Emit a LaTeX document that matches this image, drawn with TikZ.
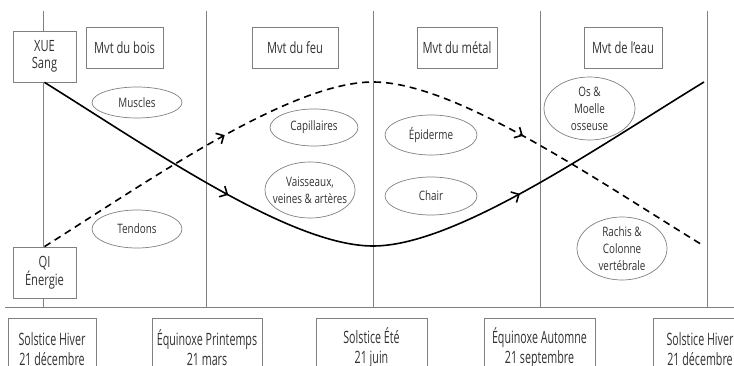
\documentclass[tikz,border=0pt]{standalone}
\usepackage{fontspec}
\setmainfont{Open Sans}[FakeStretch=0.72]
\newfontfamily\organfont{Open Sans}[FakeStretch=0.76]
\newfontfamily\datefont{Open Sans}[FakeStretch=0.63]
\usepackage{tikz}
\usetikzlibrary{arrows.meta,shapes.geometric,decorations.markings}

\begin{document}
\begin{tikzpicture}[x=1pt,y=-1pt,
  grid/.style={draw=black!50,line width=0.8pt},
  box/.style={draw=black!50,line width=0.8pt,fill=white,align=center,inner sep=0pt,text=black!80,font=\fontsize{15.5}{17}\selectfont},
  organ/.style={draw=black!50,line width=0.7pt,fill=white,ellipse,align=center,inner sep=0pt,text=black!80,font=\organfont\fontsize{13}{17}\selectfont},
  datebox/.style={draw=black!50,line width=0.8pt,fill=white,align=center,inner sep=0pt,anchor=north,minimum height=58pt,text=black!80,font=\datefont\fontsize{17}{20}\selectfont},
  flow/.style={line width=1.6pt,postaction=decorate,decoration={markings,
    mark=at position #1 with {\arrow{Straight Barb[length=6pt,width=12pt]}},
    mark=at position 1-#1 with {\arrow{Straight Barb[length=6pt,width=12pt]}}}}]
  \useasboundingbox (0,0) rectangle (734,366);
  \clip (0,0) rectangle (734,366);
  \foreach \x in {43,206,373,540,707}
    \draw[grid] (\x,11) -- (\x,307);
  \draw[grid] (5,307) -- (734,307);
  \node[box,minimum width=63pt,minimum height=51pt] (xue) at (44.5,56.5) {XUE\\Sang};
  \node[box,minimum width=63pt,minimum height=51pt] (qi) at (44.5,272.5) {QI\\Énergie};
  \node[box,minimum width=77pt,minimum height=41pt] (bois) at (124.5,47.5) {Mvt du bois};
  \node[box,minimum width=86pt,minimum height=41pt] (feu) at (295,47.5) {Mvt du feu};
  \node[box,minimum width=80pt,minimum height=41pt] (metal) at (457,47.5) {Mvt du métal};
  \node[box,minimum width=78pt,minimum height=41pt] (eau) at (623,47.5) {Mvt de l’eau};
  \node[organ,minimum width=90pt,minimum height=31pt] (muscles) at (137,102.5) {Muscles};
  \node[organ,minimum width=90pt,minimum height=38pt] (tendons) at (137,229) {Tendons};
  \node[organ,minimum width=88pt,minimum height=37pt] (capill) at (314,127.5) {Capillaires};
  \node[organ,minimum width=90pt,minimum height=56pt,inner xsep=-8pt] (vaiss) at (310,190) {Vaisseaux,\\veines \& artères};
  \node[organ,minimum width=92pt,minimum height=40pt] (epid) at (431,135) {Épiderme};
  \node[organ,minimum width=92pt,minimum height=38pt] (chair) at (431,196) {Chair};
  \node[organ,minimum width=91pt,minimum height=63pt,inner ysep=-3pt] (os) at (589.5,108.5) {Os \&\\Moelle\\osseuse};
  \node[organ,minimum width=90pt,minimum height=63pt,inner ysep=-3pt] (rachis) at (622,248.5) {Rachis \&\\Colonne\\vertébrale};
  \node[datebox,minimum width=88pt] (hiver1) at (52,318) {\vphantom{É}Solstice Hiver\\21 décembre};
  \node[datebox,minimum width=110pt] (printemps) at (207,318) {Équinoxe Printemps\\21 mars};
  \node[datebox,minimum width=111pt] (ete) at (371.5,318) {Solstice Été\\21 juin};
  \node[datebox,minimum width=111pt] (automne) at (539.5,318) {Équinoxe Automne\\21 septembre};
  \node[datebox,minimum width=94pt] (hiver2) at (700,318) {\vphantom{É}Solstice Hiver\\21 décembre};
  \coordinate (xuelow) at (373,246);
  \coordinate (xueend) at (704,82);
  \coordinate (qitop) at (373,82);
  \coordinate (qiend) at (704,246);
  \draw[flow=0.29] (xue.south) .. controls (150,148) and (290,246) .. (xuelow)
    .. controls (456,246) and (596,148) .. (xueend);
  \draw[flow=0.285,dash pattern=on 7pt off 5pt] (qi.north) .. controls (150,180) and (290,82) .. (qitop)
    .. controls (456,82) and (596,180) .. (qiend);
\end{tikzpicture}
\end{document}
